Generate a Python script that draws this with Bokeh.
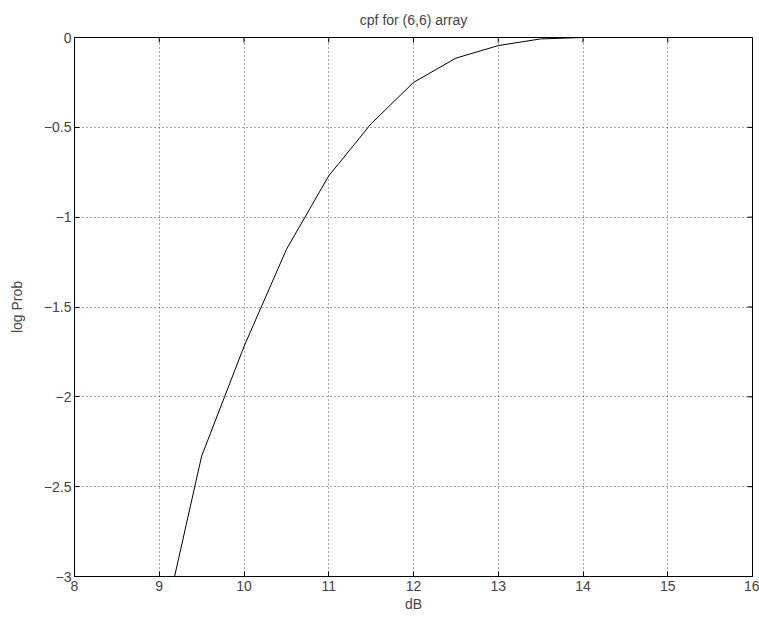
import math
from bokeh.plotting import figure
from bokeh.models import Range1d, FixedTicker
from bokeh.embed import file_html
from bokeh.resources import INLINE

# data
db = [9.0, 9.5, 10.0, 10.5, 11.0, 11.5, 12.0, 12.5, 13.0, 13.5, 14.0, 14.5, 15.0, 15.5, 16.0]
log_prob = [-3.38, -2.33, -1.72, -1.18, -0.77, -0.48, -0.25, -0.115, -0.045, -0.008, 0.0, 0.0, 0.0, 0.0, 0.0]
x_ticks = [8, 9, 10, 11, 12, 13, 14, 15, 16]
y_ticks = [-3, -2.5, -2, -1.5, -1, -0.5, 0]
y_tick_labels = ["\u22123", "\u22122.5", "\u22122", "\u22121.5", "\u22121", "\u22120.5", "0"]

FONT = "Liberation Sans"

p = figure(width=759, height=620, output_backend="svg", toolbar_location=None,
           x_range=Range1d(8, 16), y_range=Range1d(-3, 0),
           min_border_left=74, min_border_right=7, min_border_top=20, min_border_bottom=44,
           title="cpf for (6,6) array")
p.title.align = "center"
p.title.text_font = FONT
p.title.text_font_size = "14px"
p.title.text_font_style = "normal"
p.title.offset = 0
p.title.standoff = 19

p.line(db, log_prob, line_color="black", line_width=1)

for ax in (p.xaxis[0], p.yaxis[0]):
    ax.major_tick_in = 5
    ax.major_tick_out = 0
    ax.minor_tick_in = 0
    ax.minor_tick_out = 0
    ax.major_label_text_font = FONT
    ax.major_label_text_font_size = "14px"
    ax.axis_label_text_font = FONT
    ax.axis_label_text_font_size = "14px"
    ax.axis_label_text_font_style = "normal"
    ax.axis_line_color = "black"
    ax.major_tick_line_color = "black"

p.xaxis[0].ticker = FixedTicker(ticks=x_ticks)
p.yaxis[0].ticker = FixedTicker(ticks=y_ticks)
p.xaxis[0].axis_label = "dB"
p.yaxis[0].axis_label = "log Prob"
p.xaxis[0].major_label_standoff = 4
p.xaxis[0].axis_label_standoff = 2
p.yaxis[0].major_label_standoff = 3
p.yaxis[0].axis_label_standoff = 16
p.yaxis[0].major_label_overrides = dict(zip(y_ticks, y_tick_labels))

# mirrored tick marks on top and right edges (screen-length rays from the tick arrays)
p.ray(x=x_ticks, y=[0] * len(x_ticks), length=5, length_units="screen",
      angle=-math.pi / 2, line_color="black", line_width=1)
p.ray(x=[16] * len(y_ticks), y=y_ticks, length=5, length_units="screen",
      angle=math.pi, line_color="black", line_width=1)

p.xgrid.ticker = FixedTicker(ticks=x_ticks)
p.ygrid.ticker = FixedTicker(ticks=y_ticks)
for g in (p.xgrid[0], p.ygrid[0]):
    g.grid_line_color = "black"
    g.grid_line_dash = "1 3"
    g.grid_line_width = 1
    g.grid_line_alpha = 0.7

p.outline_line_color = "black"
p.background_fill_color = "white"
p.border_fill_color = "white"

open("out.html", "w").write(file_html(p, INLINE))
